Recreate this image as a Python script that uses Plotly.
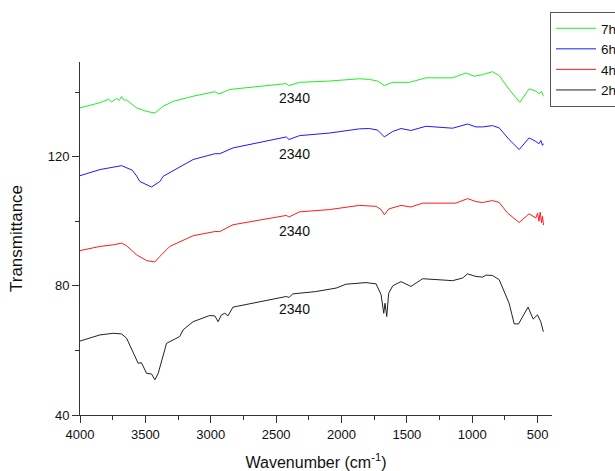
import plotly.graph_objects as go

# ---- data ----
wn_2h = [4000, 3847, 3746, 3682, 3644, 3593, 3555, 3530, 3491, 3453, 3427, 3402, 3338, 3275, 3237,
         3211, 3135, 3008, 2969, 2944, 2918, 2893, 2868, 2830, 2626, 2422, 2402, 2372, 2200, 2041,
         1965, 1863, 1812, 1735, 1697, 1677, 1667, 1654, 1639, 1608, 1545, 1469, 1379, 1150, 1074,
         1036, 972, 921, 896, 845, 794, 718, 679, 646, 603, 573, 534, 501, 476, 456]
t_2h = [62.9, 64.8, 65.3, 65.1, 63.8, 59.1, 56.0, 56.2, 52.9, 52.7, 50.9, 52.9, 62.2, 63.5, 64.3,
        66.4, 68.9, 70.8, 70.7, 68.9, 71.0, 71.5, 70.7, 73.4, 75.1, 76.7, 76.4, 77.5, 78.2, 79.3,
        80.5, 80.8, 81.0, 80.6, 77.2, 71.5, 74.6, 70.5, 77.7, 80.0, 81.3, 79.8, 82.2, 81.6, 82.4,
        83.7, 82.9, 82.7, 83.3, 83.2, 81.9, 74.6, 68.2, 68.2, 71.5, 73.4, 69.7, 71.0, 68.9, 65.8]

wn_4h = [4000, 3847, 3746, 3682, 3644, 3567, 3491, 3427, 3389, 3313, 3135, 2969, 2931, 2830, 2422,
         2402, 2321, 2092, 1863, 1735, 1697, 1672, 1639, 1545, 1469, 1379, 1125, 1036, 972, 921,
         845, 794, 729, 641, 565, 514, 500, 490, 480, 470, 463, 455]
t_4h = [90.9, 92.2, 92.7, 93.2, 92.4, 89.6, 87.8, 87.4, 89.1, 92.2, 95.5, 96.8, 96.8, 98.9, 101.8,
        101.3, 102.9, 103.6, 104.9, 104.6, 103.6, 102.0, 103.8, 104.9, 104.4, 105.6, 105.6, 107.0, 106.1, 105.8,
        106.4, 105.8, 102.5, 99.6, 102.3, 101.0, 102.5, 100.0, 102.8, 99.5, 101.5, 98.8]

wn_6h = [4000, 3847, 3682, 3600, 3567, 3542, 3453, 3389, 3364, 3135, 2969, 2931, 2830, 2422, 2402,
         2321, 2092, 1863, 1786, 1723, 1672, 1608, 1545, 1469, 1354, 1150, 1036, 972, 921, 845,
         794, 718, 641, 565, 514, 490, 475, 463, 455]
t_6h = [114.1, 116.0, 117.2, 115.8, 114.0, 112.3, 110.6, 112.3, 113.9, 119.1, 120.9, 120.9, 122.7, 126.1, 125.3,
        126.5, 127.3, 128.6, 128.7, 128.2, 126.1, 127.8, 128.7, 128.1, 129.4, 128.8, 130.1, 129.2, 129.2, 129.6,
        128.9, 125.3, 122.2, 125.8, 124.7, 124.0, 125.0, 123.5, 124.0]

wn_7h = [4000, 3847, 3780, 3760, 3720, 3700, 3682, 3665, 3644, 3567, 3491, 3427, 3364, 3288, 3135,
         2969, 2937, 2855, 2422, 2402, 2321, 2092, 1863, 1786, 1723, 1672, 1608, 1481, 1354, 1150,
         1049, 985, 921, 845, 794, 718, 636, 565, 514, 490, 470, 456]
t_7h = [135.1, 136.7, 137.8, 136.9, 138.0, 137.4, 138.6, 137.6, 137.5, 135.1, 134.0, 133.5, 135.6, 137.1, 138.7,
        140.1, 139.4, 140.8, 142.6, 142.0, 143.0, 143.4, 144.1, 143.9, 143.4, 142.0, 143.0, 143.0, 144.4, 144.4,
        145.9, 144.9, 145.4, 146.3, 145.1, 140.8, 136.8, 141.0, 140.3, 139.5, 140.2, 138.7]

series_names = ["7h", "6h", "4h", "2h"]
series_colors = ["#22ee22", "#1a1aff", "#ff1a1a", "#222222"]
series_x = [wn_7h, wn_6h, wn_4h, wn_2h]
series_y = [t_7h, t_6h, t_4h, t_2h]

label_text = "2340"
label_x = 2359
label_y = [138.0, 120.9, 97.1, 72.9]

x_ticks = [4000, 3500, 3000, 2500, 2000, 1500, 1000, 500]
x_minor = [3750, 3250, 2750, 2250, 1750, 1250, 750]
y_ticks = [40, 80, 120]
y_minor = [60, 100, 140]

FONT = "Liberation Sans, Arial, sans-serif"

fig = go.Figure()
for name, col, xs, ys in zip(series_names, series_colors, series_x, series_y):
    fig.add_trace(go.Scatter(x=xs, y=ys, mode="lines", name=name,
                             line=dict(color=col, width=1)))

for ly in label_y:
    fig.add_annotation(x=label_x, y=ly, text=label_text, showarrow=False,
                       font=dict(family=FONT, size=14, color="#111111"))

fig.update_layout(
    width=640, height=471,
    margin=dict(l=80, r=88, t=62, b=56, autoexpand=False),
    paper_bgcolor="white", plot_bgcolor="white",
    font=dict(family=FONT, size=13, color="#111111"),
    showlegend=True,
    legend=dict(x=0.9958, y=1.1416, xanchor="left", yanchor="top",
                bordercolor="#555555", borderwidth=1, bgcolor="white",
                font=dict(family=FONT, size=13.5, color="#111111"),
                itemwidth=40, tracegroupgap=0),
    xaxis=dict(range=[4000, 390], tickvals=x_ticks, ticktext=[str(v) for v in x_ticks],
               ticks="outside", ticklen=7, tickcolor="#333333",
               minor=dict(tickvals=x_minor, ticks="outside", ticklen=4, tickcolor="#333333"),
               showgrid=False, zeroline=False, showline=True, linecolor="#333333", linewidth=1,
               tickfont=dict(size=13),
               title=dict(text="Wavenumber (cm<sup>-1</sup>)", font=dict(size=16), standoff=16)),
    yaxis=dict(range=[40, 149.3], tickvals=y_ticks, ticktext=[str(v) for v in y_ticks],
               ticks="outside", ticklen=7, tickcolor="#333333",
               minor=dict(tickvals=y_minor, ticks="outside", ticklen=4, tickcolor="#333333"),
               showgrid=False, zeroline=False, showline=True, linecolor="#333333", linewidth=1,
               tickfont=dict(size=13),
               title=dict(text="Transmittance", font=dict(size=17), standoff=20)),
)

fig.write_html(
    "out.html",
    config={"displayModeBar": False},
    post_script="document.body.style.margin='0';"
                "document.documentElement.style.overflow='hidden';"
                "document.body.style.overflow='hidden';",
)
